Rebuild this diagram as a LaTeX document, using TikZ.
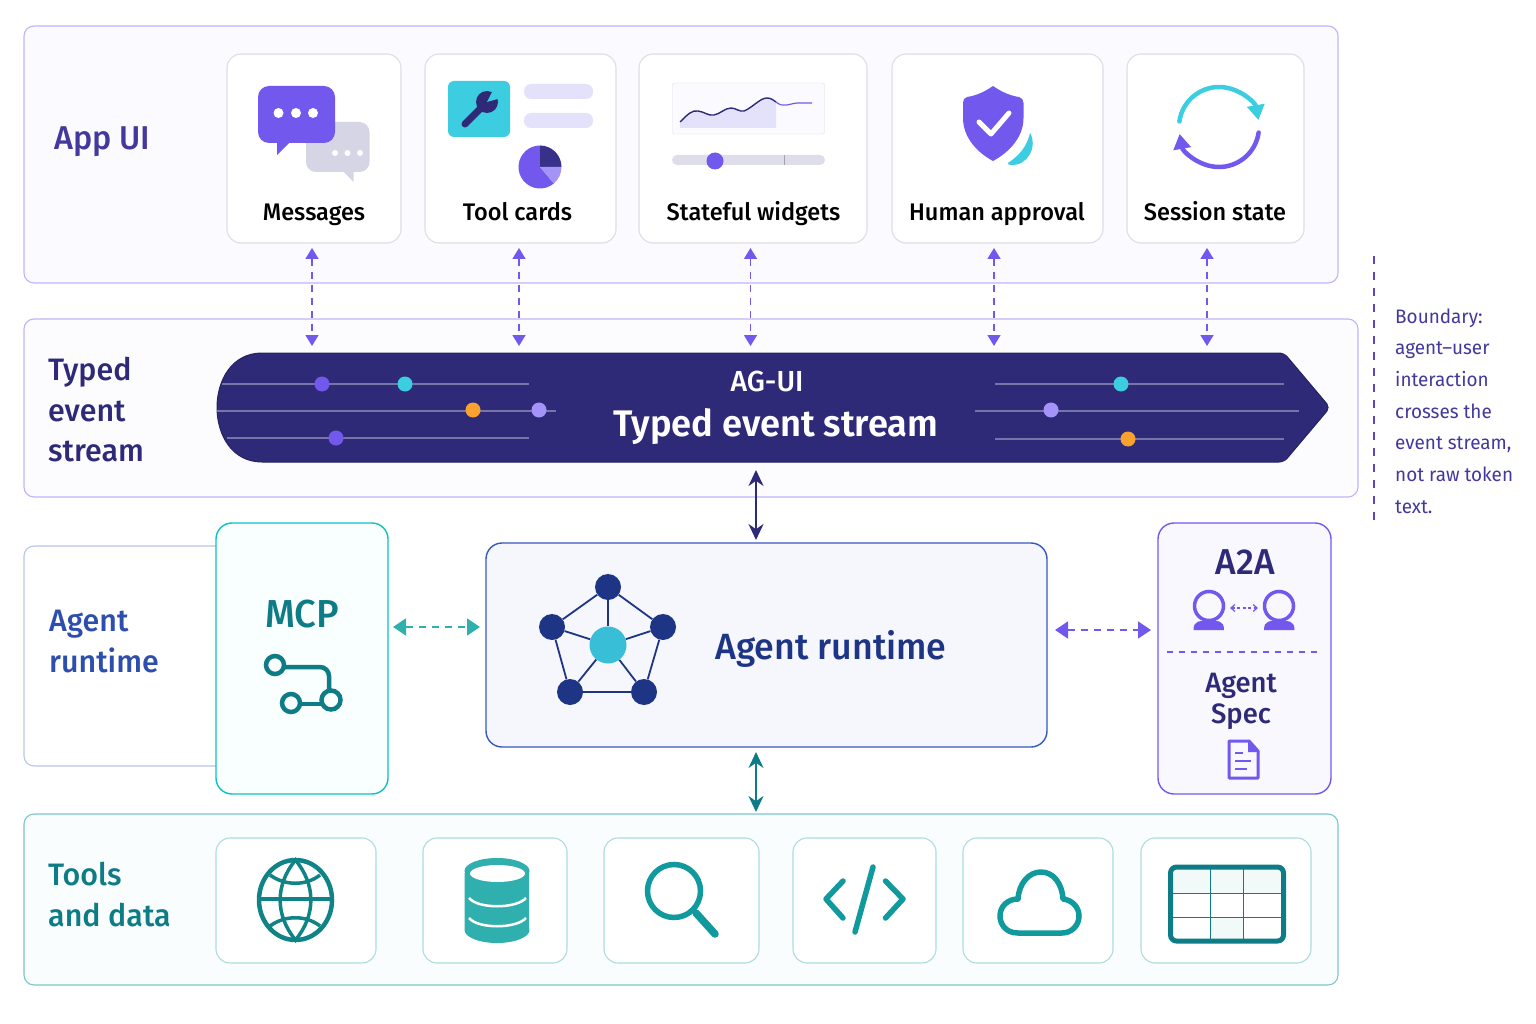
\documentclass[tikz,border=0pt]{standalone}
\usepackage{fontspec}
\setmainfont{Fira Sans}[UprightFont=* Medium,BoldFont=* SemiBold,FakeStretch=0.98]
\newfontfamily\notefont{Fira Sans}[FakeStretch=0.97]
\usepackage{color}
\definecolor{myviolet}{HTML}{7358EE}
\definecolor{mylilac}{HTML}{A594F7}
\definecolor{mypale}{HTML}{E4E1FA}
\definecolor{mycyan}{HTML}{3CCDE0}
\definecolor{myindigo}{HTML}{2E2A78}
\definecolor{myblue}{HTML}{1E3585}
\definecolor{myroyal}{HTML}{3558BE}
\definecolor{myteal}{HTML}{119A9E}
\definecolor{mydeepteal}{HTML}{0E7C86}
\definecolor{myjade}{HTML}{2FAFAD}
\definecolor{myorange}{HTML}{F9A22F}
\definecolor{mygrey}{HTML}{D6D5E5}
\usepackage{tikz}
\usetikzlibrary{arrows.meta,positioning}
\tikzstyle{panel}=[draw=#1,line width=1.1pt,rounded corners=10pt,inner sep=0pt,outer sep=0pt]
\tikzstyle{card}=[draw=#1,line width=1.1pt,fill=white,rounded corners=14pt,inner sep=0pt,outer sep=0pt]
\tikzstyle{cardtext}=[anchor=base,text=black,inner sep=0pt,font=\fontsize{24}{28}\selectfont]
\tikzstyle{rowtext}=[anchor=north west,align=left,inner sep=0pt,font=\fontsize{31}{40.5}\selectfont]
\tikzstyle{eventline}=[draw=white!35!myindigo,line width=2pt]
\tikzstyle{eventdot}=[circle,minimum size=15pt,inner sep=0pt]
\tikzstyle{flow}=[{Triangle[length=11pt,width=13pt]}-{Triangle[length=11pt,width=13pt]},line width=1.6pt,dash pattern=on 7pt off 6pt]
\tikzstyle{solidflow}=[{Stealth[length=16pt,width=15pt]}-{Stealth[length=16pt,width=15pt]},line width=2.2pt]
\tikzstyle{toolstroke}=[draw=myteal,line width=5.5pt,line cap=round,line join=round]
\begin{document}
\begin{tikzpicture}[x=1pt,y=-1pt]
\useasboundingbox (0,0) rectangle (1536,1024);

\draw (681,154.5) node [panel=mylilac!70, fill=myviolet!3, minimum width=1314pt, minimum height=257pt] (appui) {};
\draw (691,408) node [panel=mylilac!70, fill=myviolet!2, minimum width=1334pt, minimum height=178pt] (typed) {};
\draw (127,656) node [panel=myroyal!35, fill=white, minimum width=206pt, minimum height=220pt] (agentpanel) {};
\draw (681,899.5) node [panel=myteal!55, fill=myteal!2, minimum width=1314pt, minimum height=171pt] (tools) {};
\draw (302,658.5) node [panel=myteal!60!cyan, fill=mycyan!3, rounded corners=16pt, line width=1.4pt, minimum width=172pt, minimum height=271pt] (mcp) {};
\draw (766.5,645) node [panel=myroyal, fill=myroyal!5, rounded corners=16pt, line width=1.4pt, minimum width=561pt, minimum height=204pt] (runtime) {};
\draw (1244.5,658.5) node [panel=myviolet, fill=myviolet!4, rounded corners=16pt, line width=1.4pt, minimum width=173pt, minimum height=271pt] (atoa) {};

\draw (54,150) node [anchor=base west, inner sep=0pt, text=myviolet!30!myindigo, font=\fontsize{33}{40}\selectfont] (appuilabel) {App UI};
\draw (48,357) node [rowtext, text=myindigo] (typedlabel) {Typed\\event\\stream};
\draw (49,610) node [rowtext, text=myroyal!70!myblue] (agentlabel) {Agent\\runtime};
\draw (48,862) node [rowtext, text=mydeepteal] (toolslabel) {Tools\\and data};

\draw (314,148.5) node [card=mygrey!80, minimum width=174pt, minimum height=189pt] (messages) {};
\draw (520.5,148.5) node [card=mygrey!80, minimum width=191pt, minimum height=189pt] (toolcards) {};
\draw (753,148.5) node [card=mygrey!80, minimum width=228pt, minimum height=189pt] (widgets) {};
\draw (997.5,148.5) node [card=mygrey!80, minimum width=211pt, minimum height=189pt] (approval) {};
\draw (1215.5,148.5) node [card=mygrey!80, minimum width=177pt, minimum height=189pt] (session) {};
\draw (314,221) node [cardtext] (messagestext) {Messages};
\draw (517.5,221) node [cardtext] (toolcardstext) {Tool cards};
\draw (753.5,221) node [cardtext] (widgetstext) {Stateful widgets};
\draw (997,221) node [cardtext] (approvaltext) {Human approval};
\draw (1215,221) node [cardtext] (sessiontext) {Session state};

% messages icon
\fill[mygrey, rounded corners=10pt] (306,122) rectangle (369.5,172);
\fill[mygrey] (343,171) -- (353.5,182) -- (353.5,171) -- cycle;
\fill[white] (335,153) circle (3pt) (347.5,153) circle (3pt) (360,153) circle (3pt);
\fill[myviolet, rounded corners=11pt] (258,86) rectangle (335,143);
\fill[myviolet] (277,142) -- (277,155) -- (290,142) -- cycle;
\fill[white] (278.5,113) circle (5pt) (296,113) circle (5pt) (313,113) circle (5pt);

% tool cards icon
\fill[mycyan, rounded corners=6pt] (448,81) rectangle (510,137);
\draw[myindigo, line width=7pt, line cap=round] (465,124) -- (484,105);
\fill[myindigo] (487,102) circle (11pt);
\fill[mycyan] (487,102) -- (493,90) -- (501,98) -- cycle;
\fill[mypale, rounded corners=7pt] (524,84) rectangle (593,99);
\fill[mypale, rounded corners=7pt] (524,113) rectangle (593,128);
\coordinate (piecentre) at (540,167);
\fill[myviolet] (piecentre) -- ++(-50:21.5pt) arc[start angle=-50,end angle=-270,radius=21.5pt] -- cycle;
\fill[myindigo!85!myviolet] (piecentre) -- ++(90:21.5pt) arc[start angle=90,end angle=0,radius=21.5pt] -- cycle;
\fill[mylilac] (piecentre) -- ++(0:21.5pt) arc[start angle=0,end angle=-50,radius=21.5pt] -- cycle;

% widgets icon
\draw[draw=mygrey!80, fill=myviolet!3, rounded corners=2pt] (672.5,83) rectangle (824.5,134);
\fill[mypale] (680,122) .. controls (688,114) and (692,110) .. (698,111) .. controls (705,112) and (708,116) .. (714,115) .. controls (720,114) and (725,108) .. (731,108) .. controls (736,108) and (739,112) .. (744,111) .. controls (752,108) and (760,98) .. (767,98) .. controls (771,98) and (773,100) .. (776,102) -- (776,128) -- (680,128) -- cycle;
\draw[myindigo, line width=1.4pt] (680,122) .. controls (688,114) and (692,110) .. (698,111) .. controls (705,112) and (708,116) .. (714,115) .. controls (720,114) and (725,108) .. (731,108) .. controls (736,108) and (739,112) .. (744,111) .. controls (752,108) and (760,98) .. (767,98) .. controls (771,98) and (773,100) .. (776,102);
\draw[myviolet, line width=1.2pt] (776,102) .. controls (783,108) and (788,104) .. (797,103) -- (812,103);
\fill[mygrey!80, rounded corners=5pt] (672,155) rectangle (825,165);
\draw[mygrey!40!gray, line width=.5pt] (784,155) -- (784,165);
\fill[myviolet] (715,161) circle (8.5pt);

% approval icon
\fill[myviolet] (993,86) .. controls (1003,93) and (1012,96) .. (1019,97) .. controls (1022,98) and (1023.5,100) .. (1023.5,103) -- (1023.5,118) .. controls (1023.5,138) and (1008,153) .. (993,161) .. controls (978,153) and (963,138) .. (963,118) -- (963,103) .. controls (963,100) and (964,98) .. (967,97) .. controls (974,96) and (983,93) .. (993,86) -- cycle;
\draw[white, line width=5pt, line cap=round, line join=round] (979,122) -- (991,134) -- (1009,113);
\fill[mycyan] (1030,133) .. controls (1038,146) and (1028,166) .. (1011,165) .. controls (1009,165) and (1007,164) .. (1008,163) .. controls (1020,155) and (1027,146) .. (1030,133) -- cycle;

% session icon
\coordinate (loopcentre) at (1219,127);
\draw[mycyan, line width=4.5pt, line cap=round, -{Triangle[length=15pt,width=17pt]}] ([shift={(172:40pt)}]loopcentre) arc[start angle=172,end angle=10,radius=40pt];
\draw[myviolet, line width=4.5pt, line cap=round, -{Triangle[length=15pt,width=17pt]}] ([shift={(-8:40pt)}]loopcentre) arc[start angle=-8,end angle=-170,radius=40pt];

% stream
\draw[fill=myindigo, draw=myindigo!80!black, line width=1pt] (800,353) [rounded corners=5pt] -- (1284,353) -- (1330,407.5) -- (1284,462) [sharp corners] -- (262,462) .. controls (232,462) and (217,435) .. (217,407.5) .. controls (217,380) and (232,353) .. (262,353) -- cycle;
\draw[eventline] (222,384) -- (529,384);
\draw[eventline] (217,411) -- (556,411);
\draw[eventline] (227,438) -- (529,438);
\draw[eventline] (995,384) -- (1284,384);
\draw[eventline] (975,411) -- (1299,411);
\draw[eventline] (995,439) -- (1284,439);
\draw (322,384) node [eventdot, fill=myviolet] (dota) {};
\draw (405,384) node [eventdot, fill=mycyan] (dotb) {};
\draw (473,410) node [eventdot, fill=myorange] (dotc) {};
\draw (539,410) node [eventdot, fill=mylilac] (dotd) {};
\draw (336,438) node [eventdot, fill=myviolet] (dote) {};
\draw (1121,384) node [eventdot, fill=mycyan] (dotf) {};
\draw (1051,410) node [eventdot, fill=mylilac] (dotg) {};
\draw (1128,439) node [eventdot, fill=myorange] (doth) {};
\draw (767,391) node [anchor=base, inner sep=0pt, text=white, font=\fontsize{29}{32}\selectfont] (agui) {AG-UI};
\draw (776,436) node [anchor=base, inner sep=0pt, text=white, font=\bfseries\fontsize{37}{42}\selectfont] (streamtext) {Typed event stream};

% mcp
\draw (302,627) node [anchor=base, inner sep=0pt, text=mydeepteal, font=\fontsize{39}{42}\selectfont] (mcptext) {MCP};
\draw[mydeepteal, line width=4.5pt] (275,665) circle (9pt);
\draw[mydeepteal, line width=4.5pt] (291,703) circle (9pt);
\draw[mydeepteal, line width=4.5pt] (331,700) circle (9.5pt);
\draw[mydeepteal, line width=4.5pt, rounded corners=9pt] (285,667) -- (329,667) -- (329,690);
\draw[mydeepteal, line width=4.5pt] (301,704) -- (321,704);

% runtime
\draw (608,587) node [circle, fill=myblue, minimum size=26pt, inner sep=0pt] (peera) {};
\draw (552,627) node [circle, fill=myblue, minimum size=26pt, inner sep=0pt] (peerb) {};
\draw (663,627) node [circle, fill=myblue, minimum size=26pt, inner sep=0pt] (peerc) {};
\draw (570,692) node [circle, fill=myblue, minimum size=26pt, inner sep=0pt] (peerd) {};
\draw (644,692) node [circle, fill=myblue, minimum size=26pt, inner sep=0pt] (peere) {};
\draw (608,645) node [circle, fill=mycyan!90!myblue, minimum size=37pt, inner sep=0pt] (hub) {};
\draw[myblue, line width=1.8pt] (peera) -- (peerb) -- (peerd) -- (peere) -- (peerc) -- (peera);
\draw[myblue, line width=1.8pt] (hub) -- (peera);
\draw[myblue, line width=1.8pt] (hub) -- (peerb);
\draw[myblue, line width=1.8pt] (hub) -- (peerc);
\draw[myblue, line width=1.8pt] (hub) -- (peerd);
\draw[myblue, line width=1.8pt] (hub) -- (peere);
\draw (831,659) node [anchor=base, inner sep=0pt, text=myblue, font=\fontsize{36.5}{44}\selectfont] (runtimetext) {Agent runtime};

% a2a
\draw (1245,574) node [anchor=base, inner sep=0pt, text=myindigo, font=\fontsize{36}{40}\selectfont] (atoatext) {A2A};
\draw[myviolet, line width=3.5pt, fill=myviolet!4] (1209,606) circle (14.5pt);
\draw[myviolet, line width=3.5pt, fill=myviolet!4] (1279,606) circle (14.5pt);
\fill[myviolet] (1193.5,630) .. controls (1193.5,620) and (1200,621) .. (1209,621) .. controls (1218,621) and (1224,620) .. (1224,630) -- cycle;
\fill[myviolet] (1264,630) .. controls (1264,620) and (1270,621) .. (1279,621) .. controls (1288,621) and (1294.5,620) .. (1294.5,630) -- cycle;
\coordinate (peerleft) at (1230,608);
\coordinate (peerright) at (1258,608);
\draw[myviolet, line width=1.2pt, dash pattern=on 3pt off 2.5pt, {Straight Barb[length=4pt,width=7pt]}-{Straight Barb[length=4pt,width=7pt]}] (peerleft) -- (peerright);
\coordinate (splitleft) at (1167,652);
\coordinate (splitright) at (1319,652);
\draw[myviolet, line width=1.2pt, dash pattern=on 6pt off 6pt] (splitleft) -- (splitright);
\draw (1241,692) node [anchor=base, inner sep=0pt, text=myindigo, font=\fontsize{28}{31}\selectfont] (spectexta) {Agent};
\draw (1241,723) node [anchor=base, inner sep=0pt, text=myindigo, font=\fontsize{28}{31}\selectfont] (spectextb) {Spec};
\draw[myviolet, line width=3pt, line join=round] (1229,741) -- (1249,741) -- (1258,751) -- (1258,778) -- (1229,778) -- cycle;
\fill[myviolet] (1248,739.5) -- (1259.5,752) -- (1248,752) -- cycle;
\draw[myviolet, line width=2.5pt] (1235,753) -- (1243,753);
\draw[myviolet, line width=2.5pt] (1235,761) -- (1251,761);
\draw[myviolet, line width=2.5pt] (1235,769) -- (1247,769);

% tools
\draw (296,900.5) node [card=myteal!35, minimum width=160pt, minimum height=125pt] (web) {};
\draw (495,900.5) node [card=myteal!35, minimum width=144pt, minimum height=125pt] (database) {};
\draw (681.5,900.5) node [card=myteal!35, minimum width=155pt, minimum height=125pt] (search) {};
\draw (864.5,900.5) node [card=myteal!35, minimum width=143pt, minimum height=125pt] (code) {};
\draw (1038,900.5) node [card=myteal!35, minimum width=150pt, minimum height=125pt] (cloud) {};
\draw (1226,900.5) node [card=myteal!35, minimum width=170pt, minimum height=125pt] (sheet) {};

% globe
\draw[myteal!85!black, line width=4.5pt] (295.5,900) ellipse (36.5pt and 40pt);
\draw[myteal!85!black, line width=3.5pt] (295.5,860) .. controls (275,885) and (275,915) .. (295.5,940) .. controls (316,915) and (316,885) .. (295.5,860) -- cycle;
\draw[myteal!85!black, line width=3.5pt] (260,899) -- (331,899);
\draw[myteal!85!black, line width=3.5pt] (270,875) .. controls (285,886) and (306,886) .. (320,875);
\draw[myteal!85!black, line width=3.5pt] (270,926) .. controls (285,915) and (306,915) .. (320,926);

% database
\fill[myjade, rounded corners=4pt] (464.5,870) rectangle (529,932);
\fill[myjade] (497,871) ellipse (32.5pt and 13pt);
\fill[myjade] (497,930) ellipse (32.5pt and 13pt);
\fill[white] (497.5,873.5) ellipse (27.5pt and 8.5pt);
\draw[white, line width=2.5pt] (469,898) .. controls (478,909) and (516,909) .. (526,898);
\draw[white, line width=2.5pt] (469,918) .. controls (478,929) and (516,929) .. (526,918);

% search
\draw[myteal, line width=5.5pt] (674,891) circle (26.5pt);
\draw[toolstroke, line width=7.5pt] (696,913) -- (715,934);

% code
\draw[toolstroke] (843,881) -- (826,899) -- (843,918);
\draw[toolstroke] (885.5,881) -- (903,899) -- (885.5,918);
\draw[toolstroke] (873,867) -- (855,932);

% cloud
\draw[toolstroke] (1018,933) .. controls (1004,933) and (1000,922) .. (1000,916) .. controls (1000,906) and (1008,899) .. (1018,899) .. controls (1019,883) and (1029,872) .. (1041,872) .. controls (1053,872) and (1062,883) .. (1063,899) .. controls (1072,900) and (1079,907) .. (1079,916) .. controls (1079,925) and (1072,933) .. (1062,933) -- cycle;

% table
\fill[myteal!6] (1171,868) rectangle (1282,893);
\fill[myteal!6] (1210.5,918) rectangle (1243,940);
\draw[mydeepteal, line width=1pt] (1210.5,867) -- (1210.5,941);
\draw[mydeepteal, line width=1pt] (1243,867) -- (1243,941);
\draw[mydeepteal, line width=1pt] (1170,893) -- (1284,893);
\draw[mydeepteal, line width=1pt] (1170,917.5) -- (1284,917.5);
\draw[mydeepteal, line width=5pt, rounded corners=6pt] (1170.5,867) rectangle (1283.5,941);

% connectors
\coordinate (upa) at (312,248);
\coordinate (downa) at (312,346);
\coordinate (upb) at (519,248);
\coordinate (downb) at (519,346);
\coordinate (upc) at (750.5,248);
\coordinate (downc) at (750.5,346);
\coordinate (upd) at (994,248);
\coordinate (downd) at (994,346);
\coordinate (upe) at (1207,248);
\coordinate (downe) at (1207,346);
\draw[flow, myviolet] (upa) -- (downa);
\draw[flow, myviolet] (upb) -- (downb);
\draw[flow, myviolet] (upc) -- (downc);
\draw[flow, myviolet] (upd) -- (downd);
\draw[flow, myviolet] (upe) -- (downe);
\coordinate (streamout) at (756,470);
\coordinate (runtimein) at (756,540);
\coordinate (runtimeout) at (756,752);
\coordinate (toolsin) at (756,812);
\draw[solidflow, myindigo] (streamout) -- (runtimein);
\draw[solidflow, mydeepteal] (runtimeout) -- (toolsin);
\coordinate (mcpside) at (393,627);
\coordinate (runtimeleft) at (480,627);
\coordinate (runtimeright) at (1055,630);
\coordinate (atoaside) at (1151,630);
\draw[flow, myjade, {Triangle[length=13pt,width=17pt]}-{Triangle[length=13pt,width=17pt]}] (mcpside) -- (runtimeleft);
\draw[flow, myviolet, {Triangle[length=13pt,width=17pt]}-{Triangle[length=13pt,width=17pt]}] (runtimeright) -- (atoaside);

% boundary note
\coordinate (boundarytop) at (1374,256);
\coordinate (boundarybottom) at (1374,525);
\draw[myviolet!60!myindigo, line width=1.2pt, dash pattern=on 8pt off 8pt] (boundarytop) -- (boundarybottom);
\draw (1395,411) node [anchor=west, align=left, inner sep=0pt, text=myviolet!30!myindigo, font=\notefont\fontsize{19.5}{31.7}\selectfont] (boundary) {Boundary:\\agent–user\\interaction\\crosses the\\event stream,\\not raw token\\text.};
\end{tikzpicture}
\end{document}
